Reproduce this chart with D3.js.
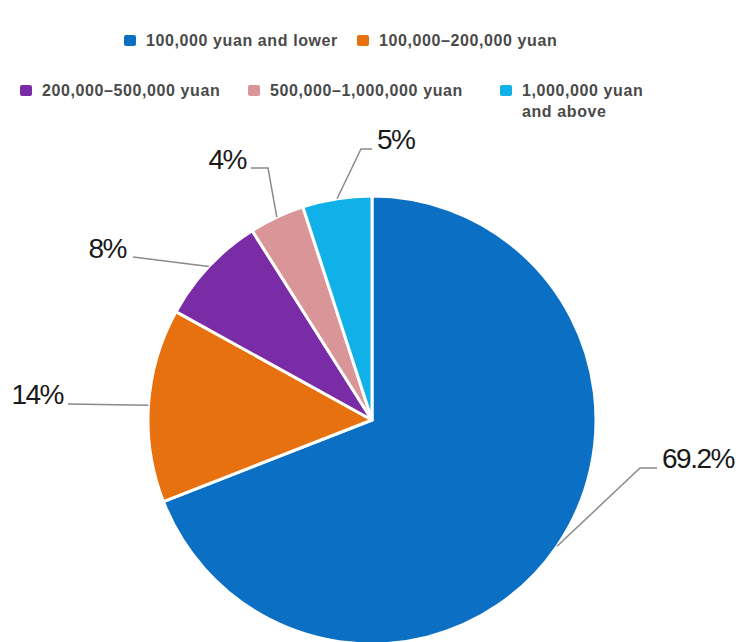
<!DOCTYPE html>
<html><head><meta charset="utf-8">
<script src="https://cdn.jsdelivr.net/npm/d3@7"></script>
<style>
html,body{margin:0;padding:0;background:#fff;}
svg{display:block;}
</style></head>
<body>
<svg id="chart" width="744" height="642"></svg>
<script>
// ---- data ----
const categories = ["100,000 yuan and lower", "100,000–200,000 yuan", "200,000–500,000 yuan", "500,000–1,000,000 yuan", "1,000,000 yuan and above"];
const values = [69.2, 14, 8, 4, 5];
const valueLabels = ["69.2%", "14%", "8%", "4%", "5%"];
const colors = ["#0b6fc3", "#e8710f", "#7a2ba6", "#d99597", "#0fb1e8"];

// ---- layout (annotation geometry, not data) ----
const cx = 372, cy = 420, R = 224;
const labelLayout = [
  {elbow:[640,468], end:[657,468], tx:662, ty:468, anchor:"start"},
  {elbow:[68,404],  end:[68,404],  tx:63,  ty:404, anchor:"end"},
  {elbow:[133,257], end:[133,257], tx:126, ty:258, anchor:"end"},
  {elbow:[268,168], end:[251,168], tx:246, ty:169, anchor:"end"},
  {elbow:[361,149], end:[372,149], tx:377, ty:149, anchor:"start"}
];
const legendLayout = [
  {x:124, y:46, lines:[categories[0]]},
  {x:357, y:46, lines:[categories[1]]},
  {x:20,  y:96, lines:[categories[2]]},
  {x:248, y:96, lines:[categories[3]]},
  {x:500, y:96, lines:["1,000,000 yuan", "and above"]}
];

const svg = d3.select("#chart");
const data = categories.map((c,i)=>({cat:c, value:values[i], label:valueLabels[i], color:colors[i], i}));

const pie = d3.pie().value(d=>d.value).sort(null);
const arcs = pie(data);
const arc = d3.arc().innerRadius(0).outerRadius(R);

const g = svg.append("g").attr("transform", `translate(${cx},${cy})`);
g.selectAll("path.slice").data(arcs).join("path")
  .attr("class","slice")
  .attr("d", arc)
  .attr("fill", d=>d.data.color)
  .attr("stroke", "#fff")
  .attr("stroke-width", 3)
  .attr("stroke-linejoin","round");

// leaders + labels
arcs.forEach((a, i) => {
  const mid = (a.startAngle + a.endAngle)/2;
  const sx = cx + R*Math.sin(mid), sy = cy - R*Math.cos(mid);
  const L = labelLayout[i];
  svg.append("polyline")
    .attr("points", [[sx,sy], L.elbow, L.end].map(p=>p.join(",")).join(" "))
    .attr("fill","none")
    .attr("stroke","#8a8a8a")
    .attr("stroke-width",1.5);
  svg.append("text")
    .attr("x", L.tx).attr("y", L.ty)
    .attr("text-anchor", L.anchor)
    .attr("font-family", "'Liberation Sans', Arial, sans-serif")
    .attr("font-size", 28)
    .attr("letter-spacing", "-1.5px")
    .attr("fill", "#1a1a1a")
    .text(a.data.label);
});

// legend
const leg = svg.append("g");
legendLayout.forEach((L, i) => {
  leg.append("rect")
    .attr("x", L.x).attr("y", L.y - 11)
    .attr("width", 12).attr("height", 11).attr("rx", 2)
    .attr("fill", colors[i]);
  const t = leg.append("text")
    .attr("x", L.x + 22).attr("y", L.y)
    .attr("font-family", "'Liberation Sans', Arial, sans-serif")
    .attr("font-size", 16)
    .attr("font-weight", "bold")
    .attr("letter-spacing", "0.6px")
    .attr("fill", "#4a4a4a");
  L.lines.forEach((ln, k) => {
    t.append("tspan").attr("x", L.x + 22).attr("dy", k === 0 ? 0 : 21).text(ln);
  });
});
</script>
</body></html>
